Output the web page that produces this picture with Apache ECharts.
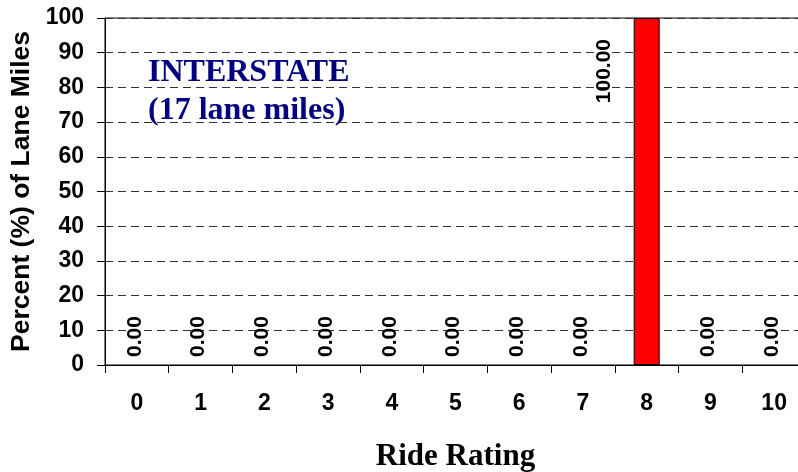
<!DOCTYPE html>
<html>
<head>
<meta charset="utf-8">
<script src="https://cdn.jsdelivr.net/npm/echarts@6/dist/echarts.min.js"></script>
<style>
  html, body { margin: 0; padding: 0; background: #ffffff; overflow: hidden; }
  #chart { width: 798px; height: 472px; }
</style>
</head>
<body>
<div id="chart"></div>
<script>
// Ride rating categories and share of lane miles in each (%)
const ratings = ['0', '1', '2', '3', '4', '5', '6', '7', '8', '9', '10'];
const percents = [0.00, 0.00, 0.00, 0.00, 0.00, 0.00, 0.00, 0.00, 100.00, 0.00, 0.00];
const titleLines = ['INTERSTATE', '(17 lane miles)'];
const xTitle = 'Ride Rating';
const yTitle = 'Percent (%) of Lane Miles';

const chart = echarts.init(document.getElementById('chart'), null, { renderer: 'canvas' });

// empty bars: value written upward from just above the baseline
const zeroLabel = { position: [11, -8], align: 'left', verticalAlign: 'middle' };
// filled bars: value written downward from near the top, left of the bar
const fullLabel = { position: [-29, 21], align: 'right', verticalAlign: 'middle' };

const barData = percents.map(v => ({
  value: v,
  label: v > 0 ? fullLabel : zeroLabel,
  itemStyle: { borderWidth: v > 0 ? 1 : 0 }
}));

chart.setOption({
  animation: false,
  backgroundColor: '#ffffff',
  grid: {
    left: 105, top: 18, width: 701, height: 347,
    // the plot area runs slightly past the right edge of the canvas
    outerBoundsMode: 'none',
    containLabel: false,
    show: true, borderColor: '#000', borderWidth: 1, backgroundColor: 'transparent'
  },
  graphic: [
    {
      type: 'text', left: 148, top: 57,
      style: { text: titleLines[0], fill: '#000080', font: 'bold 32px "Liberation Serif", "Times New Roman", serif' }
    },
    {
      type: 'text', left: 148, top: 95,
      style: { text: titleLines[1], fill: '#000080', font: 'bold 32px "Liberation Serif", "Times New Roman", serif' }
    }
  ],
  xAxis: {
    type: 'category',
    data: ratings,
    boundaryGap: true,
    axisLine: { show: true, lineStyle: { color: '#000', width: 1 } },
    axisTick: { show: true, inside: false, length: 8, lineStyle: { color: '#000' } },
    axisLabel: { margin: 27, color: '#000', fontSize: 23, fontWeight: 'bold', fontFamily: 'Liberation Sans, Arial, sans-serif', interval: 0 },
    splitLine: { show: false },
    name: xTitle,
    nameLocation: 'middle',
    nameGap: 76,
    nameTextStyle: { color: '#000', fontSize: 31, fontWeight: 'bold', fontFamily: 'Liberation Serif, Times New Roman, serif' }
  },
  yAxis: {
    type: 'value',
    min: 0, max: 100, interval: 10,
    axisLine: { show: true, lineStyle: { color: '#000', width: 1 } },
    axisTick: { show: true, inside: false, length: 8, lineStyle: { color: '#000' } },
    axisLabel: { margin: 21, color: '#000', fontSize: 23, fontWeight: 'bold', fontFamily: 'Liberation Sans, Arial, sans-serif' },
    splitLine: { show: true, lineStyle: { color: '#333', width: 1, type: [8, 5] } },
    name: yTitle,
    nameLocation: 'middle',
    nameGap: 58,
    nameTextStyle: { color: '#000', fontSize: 26.5, fontWeight: 'bold', fontFamily: 'Liberation Sans, Arial, sans-serif' }
  },
  series: [{
    type: 'bar',
    data: barData,
    barWidth: 26,
    itemStyle: { color: '#ff0000', borderColor: '#000', borderWidth: 1 },
    label: {
      show: true,
      rotate: 90,
      formatter: p => Number(p.value).toFixed(2),
      color: '#000',
      fontSize: 21,
      fontWeight: 'bold',
      fontFamily: 'Liberation Sans, Arial, sans-serif'
    },
    emphasis: { disabled: true }
  }]
});
</script>
</body>
</html>
